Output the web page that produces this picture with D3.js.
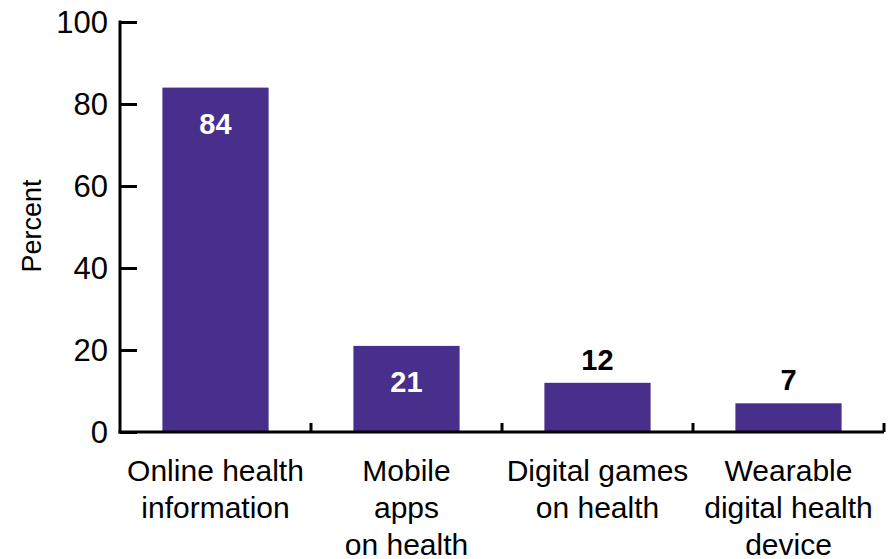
<!DOCTYPE html>
<html><head><meta charset="utf-8">
<script src="https://cdn.jsdelivr.net/npm/d3@7"></script>
<style>
html,body{margin:0;padding:0;background:#fff;}
svg{display:block;font-family:"Liberation Sans Narrow","Arial Narrow","Liberation Sans",Arial,sans-serif;}
</style></head>
<body>
<svg id="chart" width="893" height="559"></svg>
<script>
const categories = [["Online health","information"],["Mobile","apps","on health"],["Digital games","on health"],["Wearable","digital health","device"]];
const values = [84, 21, 12, 7];
const labelInside = [true, true, false, false];
const yTicks = [0, 20, 40, 60, 80, 100];

(function(){
const svg = d3.select("#chart");
const mLeft = 120, mRight = 884, mTop = 22, mBottom = 432;
const keys = categories.map((c,i)=>i);
const x = d3.scaleBand().domain(keys).range([mLeft, mRight]).padding(0);
const xb = d3.scaleBand().domain(keys).range([mLeft, mRight]).paddingInner(0.444).paddingOuter(0.222);
const y = d3.scaleLinear().domain([0,100]).range([mBottom, mTop]);
const color = "#472f8b";

svg.selectAll("rect.bar").data(values).join("rect")
  .attr("class","bar")
  .attr("x",(d,i)=>xb(i)).attr("width",xb.bandwidth())
  .attr("y",d=>y(d)).attr("height",d=>y(0)-y(d))
  .attr("fill",color);

svg.selectAll("text.val").data(values).join("text")
  .attr("class","val")
  .attr("x",(d,i)=>xb(i)+xb.bandwidth()/2)
  .attr("y",(d,i)=>labelInside[i] ? y(d)+46 : y(d)-13)
  .attr("text-anchor","middle")
  .attr("font-weight","bold")
  .attr("font-size",29)
  .attr("fill",(d,i)=>labelInside[i] ? "#fff" : "#000")
  .text(d=>d);

const yAxis = d3.axisRight(y).tickValues(yTicks).tickSize(17).tickFormat("");
const gy = svg.append("g").attr("transform",`translate(${mLeft},0)`).call(yAxis);
gy.select(".domain").remove();
gy.selectAll(".tick line").attr("stroke","#000").attr("stroke-width",3);
svg.append("line").attr("x1",mLeft).attr("x2",mLeft).attr("y1",y(100)-1.5).attr("y2",y(0)+1.5)
  .attr("stroke","#000").attr("stroke-width",3);
svg.selectAll("text.ytick").data(yTicks).join("text")
  .attr("class","ytick")
  .attr("x",108).attr("y",d=>y(d)+11)
  .attr("text-anchor","end").attr("font-size",31).attr("fill","#000")
  .text(d=>d);

svg.append("line").attr("x1",mLeft-1.5).attr("x2",mRight).attr("y1",mBottom).attr("y2",mBottom)
  .attr("stroke","#000").attr("stroke-width",3);
svg.selectAll("line.xtick").data(keys).join("line")
  .attr("class","xtick")
  .attr("x1",d=>x(d)+x.bandwidth()).attr("x2",d=>x(d)+x.bandwidth())
  .attr("y1",mBottom).attr("y2",mBottom-9)
  .attr("stroke","#000").attr("stroke-width",3);

const cl = svg.selectAll("text.cat").data(categories).join("text")
  .attr("class","cat")
  .attr("text-anchor","middle").attr("font-size",30).attr("fill","#000");
cl.each(function(lines,i){
  const t = d3.select(this);
  lines.forEach((ln,j)=>{
    t.append("tspan").attr("x",x(i)+x.bandwidth()/2).attr("y",481+j*37).text(ln);
  });
});

svg.append("text").attr("transform","translate(41,226) rotate(-90)")
  .attr("text-anchor","middle").attr("font-size",27).attr("fill","#000").text("Percent");
})();
</script>
</body></html>
